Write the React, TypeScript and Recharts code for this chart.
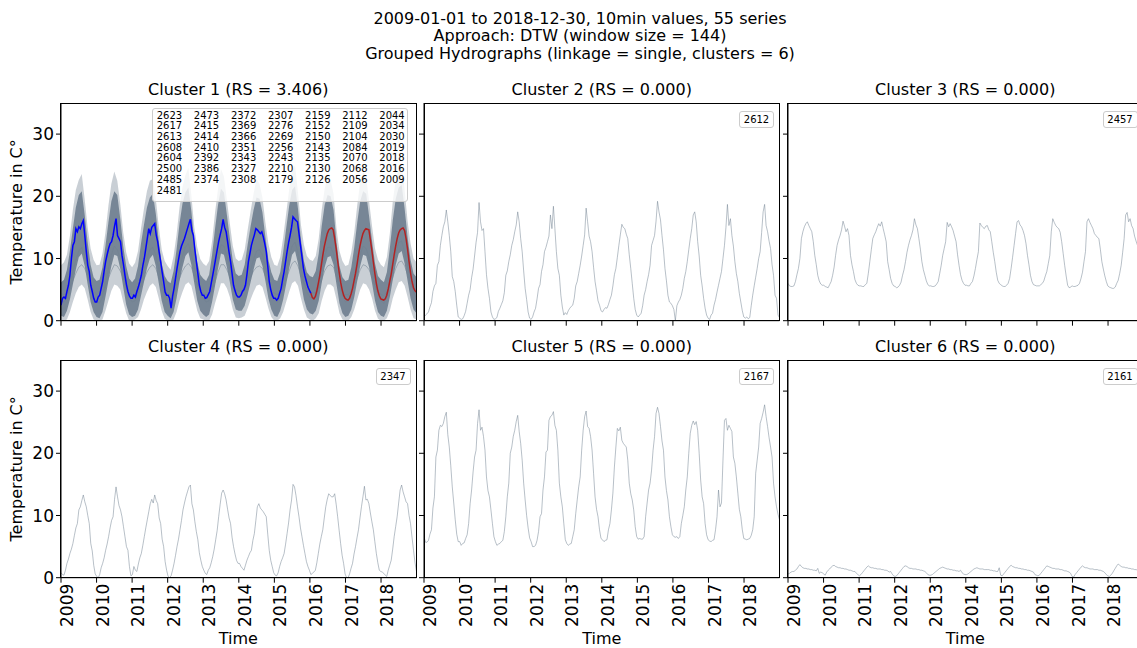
import React from "react";
import { ComposedChart, Line, Area, XAxis, YAxis } from "recharts";

const X_START = 2009;
const X_END = 2018.997;
const YEAR_TICKS = [2009, 2010, 2011, 2012, 2013, 2014, 2015, 2016, 2017, 2018];
const TEMP_TICKS = [0, 10, 20, 30];

const SUPTITLE = [
  "2009-01-01 to 2018-12-30, 10min values, 55 series",
  "Approach: DTW (window size = 144)",
  "Grouped Hydrographs (linkage = single, clusters = 6)",
];
const TITLES = [
  "Cluster 1 (RS = 3.406)",
  "Cluster 2 (RS = 0.000)",
  "Cluster 3 (RS = 0.000)",
  "Cluster 4 (RS = 0.000)",
  "Cluster 5 (RS = 0.000)",
  "Cluster 6 (RS = 0.000)",
];
const SINGLE_IDS = ["2612", "2457", "2347", "2167", "2161"];

// legend of cluster 1, column by column
const CLUSTER1_ID_COLUMNS = [
  ["2623", "2617", "2613", "2608", "2604", "2500", "2485", "2481"],
  ["2473", "2415", "2414", "2410", "2392", "2386", "2374"],
  ["2372", "2369", "2366", "2351", "2343", "2327", "2308"],
  ["2307", "2276", "2269", "2256", "2243", "2210", "2179"],
  ["2159", "2152", "2150", "2143", "2135", "2130", "2126"],
  ["2112", "2109", "2104", "2084", "2070", "2068", "2056"],
  ["2044", "2034", "2030", "2019", "2018", "2016", "2009"],
];

// semi-monthly values (24 per year, 2009..2018)
const S2612 = [
  0.6, 0.9, 1.1, 1.4, 2.2, 2.9, 4.7, 5.6, 6.0, 8.9, 9.5, 12.1, 13.7, 15.1, 15.9, 17.8, 15.9, 13.7, 11.1, 7.1, 6.3, 4.7, 2.5, 0.6,
  0.4, 0.2, 0.3, 0.8, 1.5, 2.8, 4.1, 5.0, 6.9, 8.3, 10.4, 12.6, 14.2, 19.0, 15.9, 14.5, 14.8, 11.1, 7.4, 5.2, 3.6, 1.4, 0.6, 0.2,
  0.3, 0.5, 1.5, 2.0, 2.6, 3.2, 4.5, 7.3, 8.0, 9.5, 10.6, 12.1, 13.0, 14.3, 15.4, 17.5, 15.9, 13.2, 11.1, 8.0, 5.2, 3.4, 1.4, 0.4,
  0.2, 0.6, 1.4, 2.0, 3.5, 5.2, 5.8, 7.9, 9.0, 11.1, 11.8, 12.7, 13.6, 17.0, 14.8, 18.4, 14.8, 11.1, 8.4, 7.3, 4.1, 2.2, 0.9, 1.3,
  1.0, 1.6, 2.0, 2.3, 2.5, 3.6, 5.6, 6.3, 7.6, 8.9, 10.4, 12.1, 13.8, 18.1, 15.9, 13.6, 12.7, 11.1, 8.6, 6.3, 4.8, 3.2, 2.5, 1.6,
  1.4, 1.8, 2.1, 2.0, 2.6, 3.4, 4.1, 5.6, 7.4, 8.4, 10.2, 12.1, 13.8, 15.5, 15.0, 14.8, 13.9, 13.2, 10.6, 8.4, 6.0, 3.6, 1.8, 0.9,
  0.6, 0.9, 1.2, 2.4, 4.1, 5.0, 6.3, 7.4, 8.9, 12.1, 12.9, 13.7, 16.0, 19.2, 17.5, 16.2, 13.7, 11.4, 8.4, 6.4, 4.1, 3.0, 2.8, 2.4,
  1.8, 0.0, 2.4, 3.0, 3.4, 4.1, 5.2, 6.8, 7.9, 9.5, 11.4, 13.2, 14.8, 17.0, 17.5, 15.9, 12.7, 10.4, 7.3, 5.6, 3.6, 2.0, 0.9, 0.4,
  0.2, 0.9, 1.2, 2.5, 3.4, 4.6, 5.7, 6.8, 7.9, 10.0, 12.1, 15.0, 18.7, 15.3, 16.4, 13.7, 12.0, 9.5, 7.6, 6.3, 4.4, 3.0, 1.6, 0.6,
  0.4, 0.6, 0.3, 0.5, 2.4, 4.1, 5.6, 7.0, 8.4, 10.0, 11.1, 14.2, 17.5, 18.7, 15.3, 14.3, 12.8, 11.6, 9.0, 7.3, 4.1, 3.6, 0.9, 0.5,
];

const S2457 = [
  6.0, 5.6, 5.5, 5.5, 5.6, 6.3, 7.4, 8.4, 10.0, 13.2, 14.3, 15.1, 15.6, 15.9, 15.3, 14.8, 14.3, 12.7, 10.5, 9.0, 7.3, 6.4, 5.9, 5.7,
  5.7, 5.5, 5.4, 5.3, 5.8, 6.3, 7.3, 8.6, 10.5, 12.1, 13.0, 13.7, 14.6, 16.0, 15.2, 14.3, 14.8, 13.7, 10.5, 9.0, 7.9, 6.6, 6.0, 5.7,
  5.6, 5.6, 5.5, 5.5, 5.8, 6.0, 7.6, 9.5, 11.4, 13.2, 13.8, 14.3, 15.0, 15.6, 15.2, 15.9, 14.8, 13.8, 12.7, 9.5, 8.2, 6.8, 6.0, 5.6,
  5.5, 5.3, 5.4, 5.7, 6.2, 7.3, 8.2, 9.5, 11.0, 12.1, 13.0, 13.7, 14.6, 16.4, 15.4, 14.8, 13.2, 11.5, 9.5, 8.2, 7.3, 6.4, 5.8, 5.6,
  5.6, 5.5, 5.5, 5.6, 5.9, 6.3, 7.6, 8.9, 10.5, 11.6, 12.7, 15.8, 15.1, 15.6, 15.1, 14.5, 13.6, 12.7, 10.6, 8.9, 7.4, 6.5, 6.0, 5.7,
  5.7, 5.6, 5.6, 6.0, 6.3, 7.2, 8.4, 9.8, 11.1, 15.7, 15.3, 15.0, 14.8, 15.2, 15.3, 14.6, 14.3, 12.7, 11.0, 9.5, 7.8, 6.5, 6.0, 5.8,
  5.6, 5.5, 5.5, 5.7, 6.0, 6.8, 8.4, 10.2, 12.1, 14.0, 15.9, 16.1, 15.4, 15.1, 14.5, 13.7, 12.4, 10.5, 9.0, 7.3, 6.3, 5.8, 5.7, 5.6,
  5.6, 5.6, 5.8, 6.0, 6.4, 7.2, 7.9, 9.2, 10.5, 14.3, 16.4, 15.8, 15.3, 15.0, 14.8, 14.2, 12.7, 10.8, 8.9, 7.2, 5.7, 5.3, 5.4, 5.6,
  5.5, 5.5, 5.6, 5.7, 6.0, 6.8, 7.8, 9.5, 11.1, 15.9, 16.4, 15.8, 15.3, 14.8, 14.0, 13.7, 13.4, 13.2, 11.5, 9.5, 8.3, 7.2, 6.3, 5.6,
  5.4, 5.3, 5.2, 5.2, 5.4, 6.0, 6.5, 7.6, 8.9, 11.0, 13.2, 17.0, 17.4, 15.9, 16.4, 15.3, 14.8, 13.6, 12.8, 12.1, 10.5, 8.5, 7.0, 6.0,
];

const S2347 = [
  0.8, 0.5, 0.4, 1.2, 2.3, 3.0, 3.9, 4.6, 5.5, 6.8, 8.0, 8.7, 10.9, 11.4, 12.4, 13.3, 12.2, 11.4, 10.0, 8.7, 5.5, 4.3, 2.0, 0.6,
  0.2, 0.0, 0.5, 1.6, 2.3, 3.2, 4.4, 5.4, 6.6, 8.0, 9.2, 9.8, 12.6, 14.6, 13.0, 11.6, 10.9, 9.8, 8.2, 6.6, 5.0, 4.4, 1.8, 0.3,
  0.5, 1.8, 1.2, 1.0, 2.2, 3.2, 3.9, 5.2, 6.6, 8.0, 9.3, 10.6, 11.9, 12.6, 12.0, 13.3, 12.4, 11.9, 9.6, 8.7, 6.2, 5.0, 2.6, 1.2,
  0.2, 0.0, 0.3, 1.2, 2.3, 3.6, 5.0, 6.2, 7.7, 9.2, 10.9, 12.0, 13.0, 13.8, 14.6, 14.9, 11.9, 10.9, 9.0, 7.4, 6.1, 4.0, 2.8, 1.8,
  1.2, 0.7, 0.5, 1.2, 1.6, 2.4, 3.4, 4.6, 6.1, 7.6, 9.8, 11.8, 13.6, 14.1, 13.5, 12.5, 11.0, 9.6, 8.7, 6.5, 5.0, 3.8, 2.8, 2.3,
  2.3, 1.8, 1.5, 1.2, 2.0, 2.8, 3.4, 4.0, 4.4, 6.0, 7.1, 9.2, 11.4, 11.9, 11.2, 10.9, 10.6, 10.2, 9.8, 7.0, 4.4, 2.8, 1.8, 0.8,
  0.4, 0.3, 0.8, 1.8, 2.6, 3.2, 3.9, 5.4, 7.1, 8.8, 10.9, 12.5, 15.0, 14.6, 13.2, 11.4, 9.8, 8.0, 6.6, 5.2, 3.9, 2.6, 1.8, 1.2,
  0.5, 0.7, 0.9, 1.2, 2.4, 3.9, 5.4, 6.6, 7.7, 9.6, 11.4, 12.6, 13.5, 13.2, 13.0, 13.0, 13.5, 11.8, 9.8, 7.6, 5.5, 3.6, 2.3, 0.6,
  0.0, 0.0, 0.6, 1.5, 2.3, 3.8, 5.0, 6.4, 7.7, 9.6, 11.4, 13.0, 14.7, 12.5, 12.6, 11.9, 10.4, 9.0, 7.7, 5.8, 3.9, 2.4, 1.2, 1.0,
  0.9, 0.7, 0.4, 0.2, 1.2, 2.0, 2.8, 4.6, 6.6, 8.2, 9.8, 12.0, 14.1, 14.9, 13.8, 13.0, 12.2, 11.9, 10.0, 8.7, 6.5, 4.4, 2.4, 1.0,
];

const S2167 = [
  6.6, 5.7, 5.7, 6.0, 7.0, 7.7, 11.2, 13.0, 19.4, 20.5, 23.7, 24.5, 24.3, 24.8, 25.9, 26.6, 23.0, 21.0, 18.0, 14.6, 12.0, 9.3, 7.0, 5.8,
  5.8, 5.2, 5.5, 5.6, 6.3, 6.9, 8.7, 11.9, 14.1, 17.0, 19.4, 20.5, 24.8, 27.0, 23.7, 24.2, 22.7, 20.5, 16.2, 14.0, 13.0, 10.9, 8.7, 6.6,
  5.8, 5.2, 5.4, 5.5, 5.8, 6.0, 7.4, 9.8, 13.0, 15.2, 20.0, 21.0, 22.7, 23.7, 25.1, 26.1, 23.5, 21.6, 18.9, 15.2, 12.5, 10.0, 8.0, 6.4,
  5.8, 5.0, 5.0, 5.2, 6.0, 7.4, 9.8, 10.3, 14.1, 16.2, 20.2, 20.5, 25.3, 25.9, 26.1, 26.7, 24.5, 23.7, 20.5, 15.2, 13.0, 11.4, 8.7, 6.1,
  5.5, 5.2, 5.4, 5.5, 6.6, 7.7, 10.3, 12.5, 14.6, 16.2, 20.5, 23.7, 25.9, 26.8, 24.3, 24.0, 22.7, 20.5, 16.8, 13.0, 11.0, 9.8, 7.7, 6.3,
  6.1, 5.8, 6.0, 6.1, 7.7, 8.7, 10.9, 13.6, 17.8, 21.0, 24.0, 23.6, 24.2, 22.1, 21.6, 21.3, 21.0, 18.9, 15.2, 13.5, 12.5, 10.9, 8.2, 6.6,
  6.2, 6.3, 6.2, 6.2, 6.6, 9.8, 12.0, 14.1, 15.2, 17.3, 20.5, 22.7, 26.4, 27.4, 26.4, 24.3, 22.0, 20.5, 16.2, 14.0, 12.5, 9.8, 8.2, 6.9,
  6.6, 6.5, 6.6, 6.3, 6.6, 8.7, 10.0, 11.4, 14.1, 16.2, 20.0, 23.2, 24.5, 25.2, 24.6, 25.1, 23.7, 20.0, 15.7, 13.0, 11.9, 8.7, 6.9, 6.1,
  5.9, 5.8, 6.0, 6.1, 7.7, 9.8, 14.1, 11.4, 12.0, 18.9, 25.3, 25.6, 23.7, 24.5, 24.0, 23.5, 19.4, 18.4, 16.2, 13.6, 11.0, 9.8, 7.7, 6.3,
  6.2, 6.1, 6.2, 6.3, 6.8, 7.7, 9.8, 16.8, 18.9, 21.0, 24.8, 25.6, 26.6, 27.8, 25.9, 24.3, 22.5, 21.0, 19.4, 15.2, 13.0, 11.4, 10.2, 9.3,
];

const S2161 = [
  0.6, 0.7, 0.9, 1.0, 1.0, 1.2, 1.4, 1.8, 2.1, 1.8, 1.6, 1.5, 1.5, 1.4, 1.4, 1.3, 1.3, 1.2, 1.2, 1.1, 1.5, 0.7, 0.9, 0.8,
  0.6, 0.4, 0.9, 1.2, 1.4, 1.7, 1.9, 2.0, 1.8, 1.7, 1.6, 1.6, 1.5, 1.5, 1.4, 1.4, 1.3, 1.2, 1.2, 1.1, 1.0, 1.0, 0.7, 0.5,
  0.3, 0.5, 0.8, 1.1, 1.4, 1.7, 1.9, 1.7, 1.6, 1.6, 1.5, 1.5, 1.4, 1.4, 1.4, 1.3, 1.3, 1.2, 1.2, 1.1, 0.9, 1.0, 0.6, 0.3,
  0.2, 0.3, 0.6, 0.9, 1.2, 1.5, 1.8, 1.9, 1.8, 1.6, 1.5, 1.5, 1.4, 1.4, 1.4, 1.3, 1.3, 1.2, 1.2, 1.1, 1.0, 0.8, 0.5, 0.4,
  0.4, 0.5, 0.7, 0.9, 1.1, 1.3, 1.5, 1.6, 1.7, 1.6, 1.5, 1.4, 1.4, 1.3, 1.3, 1.2, 1.2, 1.1, 1.1, 1.0, 1.2, 0.8, 0.6, 0.5,
  0.5, 0.6, 0.8, 1.0, 1.2, 1.4, 1.5, 1.6, 1.5, 1.4, 1.4, 1.4, 1.3, 1.3, 1.3, 1.3, 1.2, 1.2, 1.1, 1.1, 1.0, 1.0, 1.6, 0.4,
  0.3, 0.6, 0.9, 1.2, 1.5, 1.8, 2.0, 1.8, 1.7, 1.6, 1.6, 1.5, 1.5, 1.4, 1.4, 1.3, 1.3, 1.2, 1.2, 1.1, 1.0, 0.9, 0.5, 0.4,
  0.3, 0.4, 0.7, 1.0, 1.3, 1.6, 1.9, 1.8, 1.7, 1.6, 1.5, 1.5, 1.4, 1.4, 1.4, 1.3, 1.3, 1.2, 1.1, 1.1, 1.0, 0.9, 0.7, 0.2,
  0.1, 0.5, 0.8, 1.1, 1.4, 1.7, 1.9, 1.7, 1.6, 1.6, 1.5, 1.4, 1.4, 1.4, 1.3, 1.3, 1.3, 1.2, 1.2, 1.1, 1.0, 0.8, 0.5, 0.3,
  0.2, 0.4, 0.7, 1.1, 1.5, 1.9, 2.2, 2.0, 1.8, 1.7, 1.7, 1.6, 1.6, 1.5, 1.5, 1.4, 1.4, 1.3, 1.3, 1.2, 1.2, 1.1, 1.1, 1.0,
];

// cluster 1: highlighted series, blue 2009-2016, red 2016-2018
const C1_BLUE = [
  2.5, 3.6, 3.8, 3.6, 4.7, 5.7, 7.3, 10.0, 12.1, 12.7, 14.8, 14.3, 15.1, 14.8, 15.6, 16.1, 13.7, 11.1, 8.9, 7.9, 5.7, 4.7, 3.6, 3.0,
  3.0, 3.8, 4.1, 5.2, 6.3, 8.0, 9.5, 10.6, 11.6, 12.4, 12.7, 13.7, 15.2, 16.4, 13.7, 13.2, 12.7, 10.5, 9.0, 7.3, 5.8, 4.7, 4.0, 3.6,
  3.6, 4.1, 3.8, 4.7, 5.4, 6.3, 7.3, 8.8, 10.0, 11.6, 13.2, 14.8, 14.0, 15.0, 15.3, 15.6, 13.8, 12.7, 11.0, 9.5, 7.8, 6.3, 4.6, 4.1,
  4.1, 3.6, 2.0, 3.9, 5.2, 6.8, 8.4, 9.8, 11.1, 12.0, 12.6, 13.2, 14.0, 14.8, 15.6, 16.3, 14.5, 13.7, 11.4, 9.5, 7.6, 5.7, 4.7, 4.1,
  4.1, 3.6, 3.7, 4.2, 4.7, 6.0, 7.3, 8.6, 10.0, 11.4, 12.7, 13.8, 14.8, 16.3, 15.0, 14.3, 12.7, 11.0, 9.5, 7.6, 5.7, 4.8, 4.1, 3.8,
  3.8, 4.1, 4.7, 5.0, 5.7, 7.4, 9.5, 10.8, 12.1, 13.0, 13.8, 14.8, 14.6, 14.3, 14.0, 14.3, 13.5, 12.4, 11.1, 8.8, 6.3, 5.0, 4.1, 3.6,
  3.6, 3.3, 3.6, 4.4, 5.2, 6.6, 7.9, 9.5, 11.1, 12.5, 13.7, 15.0, 16.7, 16.4, 16.1, 15.9, 14.0, 12.1, 10.3, 8.4, 7.2, 6.3, 5.4, 4.9,
  4.4,
];
const C1_RED = [
  4.4, 3.7, 3.5, 3.9, 4.8, 6.0, 7.3, 8.9, 10.5, 11.9, 13.0, 14.0, 14.6, 14.8, 14.9, 14.6, 13.2, 11.6, 9.6, 7.8, 6.2, 5.0, 4.1, 3.6,
  3.4, 3.3, 3.6, 4.3, 5.2, 6.4, 7.6, 9.0, 10.6, 12.0, 13.1, 14.0, 14.5, 14.8, 14.7, 14.6, 13.0, 11.3, 9.4, 7.6, 6.0, 4.8, 4.0, 3.5,
  3.4, 3.3, 3.5, 4.1, 5.1, 6.3, 7.5, 9.0, 10.6, 12.0, 13.2, 14.1, 14.6, 14.8, 14.9, 14.5, 13.2, 11.5, 9.5, 7.7, 6.3, 5.3, 4.8, 4.6,
];
const C1_RED_START = 168;

// cluster 1: monthly spread of the 50 grey series (12 per year + end)
const C1_OUTER_HIGH = [
  8.9, 9.4, 10.6, 13.6, 17.8, 21.0, 22.6, 23.6, 19.5, 15.0, 11.6, 9.8,
  8.9, 9.0, 10.8, 14.2, 18.5, 22.0, 24.0, 22.5, 18.8, 14.2, 11.0, 9.2,
  8.6, 9.3, 11.2, 14.8, 18.0, 20.8, 22.5, 22.8, 19.6, 15.2, 11.4, 9.6,
  8.8, 8.2, 10.4, 13.8, 18.2, 21.5, 23.4, 24.6, 20.2, 15.0, 11.8, 9.9,
  9.2, 8.8, 9.6, 12.8, 17.4, 21.2, 24.4, 23.2, 19.4, 15.6, 12.0, 10.0,
  9.6, 9.8, 11.4, 14.6, 17.6, 20.4, 22.8, 22.0, 19.8, 15.8, 12.4, 10.2,
  9.0, 8.8, 10.2, 13.4, 17.2, 21.0, 24.2, 25.0, 20.6, 15.4, 12.2, 10.4,
  9.8, 9.6, 10.4, 13.2, 17.8, 21.2, 23.1, 22.6, 20.4, 14.8, 11.2, 9.6,
  8.8, 9.0, 11.0, 14.2, 18.6, 22.2, 23.9, 23.2, 19.2, 15.2, 11.6, 9.8,
  9.0, 8.6, 10.2, 14.0, 19.2, 22.8, 24.6, 25.4, 21.0, 16.0, 12.4, 10.0,
  9.4,
];
const C1_CORE_HIGH = [
  6.2, 6.6, 8.2, 11.2, 14.8, 18.2, 20.2, 20.8, 17.0, 12.6, 9.0, 7.0,
  6.4, 6.6, 8.6, 12.0, 15.8, 19.2, 20.8, 20.2, 16.4, 12.0, 8.8, 6.8,
  6.2, 6.8, 8.8, 12.4, 15.4, 18.2, 19.8, 20.4, 17.2, 12.8, 9.2, 7.2,
  6.4, 6.0, 8.0, 11.4, 15.6, 18.8, 20.6, 21.4, 17.6, 12.8, 9.4, 7.4,
  6.8, 6.4, 7.4, 10.6, 14.8, 18.6, 21.2, 20.6, 17.0, 13.2, 9.6, 7.6,
  7.2, 7.4, 9.0, 12.2, 15.2, 17.8, 19.8, 19.6, 17.4, 13.4, 9.8, 7.8,
  6.6, 6.4, 7.8, 11.0, 14.8, 18.4, 21.0, 21.6, 18.0, 13.0, 9.6, 7.8,
  7.2, 7.0, 8.0, 10.8, 15.2, 18.6, 20.2, 20.0, 17.8, 12.6, 8.8, 7.0,
  6.4, 6.6, 8.6, 11.8, 15.8, 19.2, 20.8, 20.4, 16.8, 12.8, 9.2, 7.2,
  6.6, 6.2, 7.8, 11.6, 16.2, 19.6, 21.4, 21.8, 18.0, 13.4, 9.8, 7.6,
  7.0,
];
const C1_CORE_LOW = [
  0.8, 0.6, 1.6, 3.4, 5.8, 8.2, 10.2, 10.8, 8.8, 5.8, 3.0, 1.4,
  0.6, 0.4, 1.4, 3.8, 6.4, 8.8, 10.6, 10.4, 8.4, 5.4, 2.6, 1.0,
  0.6, 0.8, 1.8, 4.0, 6.2, 8.4, 10.0, 10.6, 8.8, 6.0, 3.2, 1.4,
  0.8, 0.4, 1.4, 3.6, 6.4, 8.6, 10.4, 11.0, 9.0, 6.0, 3.2, 1.6,
  1.0, 0.6, 1.0, 3.0, 5.6, 8.4, 10.8, 10.6, 8.6, 6.2, 3.4, 1.8,
  1.6, 1.6, 2.4, 4.2, 6.2, 8.2, 10.0, 10.2, 8.8, 6.4, 3.6, 1.8,
  0.8, 0.6, 1.6, 3.4, 5.8, 8.4, 10.6, 11.2, 9.2, 6.2, 3.4, 1.8,
  1.2, 1.0, 1.6, 3.2, 6.0, 8.6, 10.2, 10.4, 9.0, 5.8, 2.8, 1.2,
  0.6, 0.8, 1.8, 3.8, 6.4, 8.8, 10.6, 10.4, 8.6, 6.0, 3.2, 1.4,
  0.8, 0.6, 1.6, 3.8, 6.6, 9.0, 10.8, 11.2, 9.2, 6.4, 3.6, 1.8,
  1.2,
];
const C1_OUTER_LOW = [
  0.0, 0.0, 0.2, 1.4, 3.0, 4.4, 5.4, 5.8, 5.2, 3.4, 1.4, 0.2,
  0.0, 0.0, 0.2, 1.6, 3.2, 4.8, 5.8, 5.6, 5.0, 3.0, 1.2, 0.0,
  0.0, 0.2, 0.6, 1.8, 3.4, 4.6, 5.6, 6.0, 5.4, 3.6, 1.6, 0.3,
  0.0, 0.0, 0.2, 1.4, 3.2, 4.6, 5.8, 6.2, 5.6, 3.6, 1.6, 0.4,
  0.2, 0.0, 0.0, 1.0, 2.8, 4.4, 6.0, 6.0, 5.2, 3.8, 1.8, 0.5,
  0.4, 0.5, 0.8, 2.0, 3.4, 4.6, 5.6, 5.8, 5.4, 3.8, 2.0, 0.6,
  0.0, 0.0, 0.4, 1.4, 3.0, 4.6, 6.0, 6.4, 5.6, 3.6, 1.8, 0.5,
  0.2, 0.0, 0.4, 1.2, 3.2, 4.8, 5.8, 5.8, 5.4, 3.4, 1.2, 0.2,
  0.0, 0.0, 0.6, 1.8, 3.4, 5.0, 6.0, 5.8, 5.0, 3.6, 1.6, 0.3,
  0.0, 0.0, 0.4, 1.6, 3.6, 5.0, 6.2, 6.4, 5.6, 3.8, 1.8, 0.4,
  0.2,
];
// two of the flatter grey series, monthly
const C1_LINE_A = [
  4.4, 4.2, 4.4, 5.2, 6.4, 7.6, 8.6, 9.0, 8.4, 7.2, 5.8, 4.8,
  4.2, 4.0, 4.4, 5.4, 6.8, 8.0, 9.0, 8.8, 8.0, 6.8, 5.4, 4.6,
  4.2, 4.2, 4.8, 5.6, 6.6, 7.8, 8.6, 9.0, 8.4, 7.0, 5.8, 4.8,
  4.4, 4.0, 4.4, 5.4, 6.8, 8.0, 8.8, 9.2, 8.6, 7.2, 5.8, 4.8,
  4.4, 4.2, 4.2, 5.0, 6.2, 7.8, 9.0, 9.0, 8.2, 7.0, 5.8, 5.0,
  4.8, 4.8, 5.2, 6.0, 7.0, 8.0, 8.6, 8.8, 8.4, 7.2, 6.0, 5.0,
  4.4, 4.2, 4.6, 5.4, 6.6, 8.0, 9.2, 9.6, 8.8, 7.2, 6.0, 5.0,
  4.6, 4.4, 4.6, 5.2, 6.6, 8.0, 8.8, 9.0, 8.6, 7.0, 5.6, 4.6,
  4.2, 4.2, 4.8, 5.6, 6.8, 8.2, 9.0, 8.8, 8.2, 7.0, 5.6, 4.8,
  4.2, 4.0, 4.6, 5.6, 7.0, 8.4, 9.4, 9.6, 8.8, 7.4, 6.0, 5.0,
  4.6,
];
const C1_LINE_B = [
  3.2, 3.0, 3.8, 5.6, 7.8, 9.8, 11.2, 11.8, 10.4, 8.2, 5.8, 4.0,
  3.2, 2.8, 3.8, 6.0, 8.4, 10.6, 12.0, 11.4, 10.0, 7.6, 5.4, 3.8,
  3.0, 3.2, 4.4, 6.4, 8.2, 10.0, 11.4, 11.8, 10.6, 8.4, 6.0, 4.2,
  3.4, 2.8, 3.6, 5.8, 8.4, 10.4, 11.8, 12.4, 10.8, 8.4, 6.0, 4.4,
  3.6, 3.0, 3.2, 5.0, 7.6, 10.2, 12.2, 12.0, 10.4, 8.6, 6.2, 4.6,
  4.0, 4.2, 5.0, 6.6, 8.2, 9.8, 11.2, 11.4, 10.6, 8.6, 6.4, 4.6,
  3.4, 3.0, 4.0, 5.8, 7.8, 10.2, 12.0, 12.6, 11.0, 8.4, 6.2, 4.6,
  3.8, 3.4, 3.8, 5.4, 8.0, 10.4, 11.8, 11.8, 10.8, 8.0, 5.6, 4.0,
  3.0, 3.2, 4.4, 6.2, 8.6, 10.6, 12.0, 11.6, 10.2, 8.2, 5.8, 4.2,
  3.2, 2.8, 4.0, 6.2, 8.8, 11.0, 12.6, 12.8, 11.0, 8.8, 6.4, 4.6,
  3.6,
];

const FONT = "DejaVu Sans";
const GREY = "#708090";

const COL_LEFT = [60.5, 424, 787.5];
const ROW_TOP = [103, 360];
const PLOT_W = 355.5;
const PLOT_H = 217.7;
const YAXIS_W = 62;
const XAXIS_H = 60;
const PAD = 2;

const STEP = (X_END - X_START) / 239;
const BAND_STEP = (X_END - X_START) / 120;

const toSeries = (values: number[], offset = 0) =>
  values.map((v, i) => ({ x: X_START + (i + offset) * STEP, v }));

const bandData = C1_OUTER_HIGH.map((hi, k) => ({
  x: X_START + k * BAND_STEP,
  outer: [C1_OUTER_LOW[k], hi],
  core: [C1_CORE_LOW[k], C1_CORE_HIGH[k]],
  a: C1_LINE_A[k],
  b: C1_LINE_B[k],
}));
const blueData = toSeries(C1_BLUE);
const redData = toSeries(C1_RED, C1_RED_START);

type PanelProps = {
  col: number;
  row: number;
  data: any[];
  children: React.ReactNode;
};

const Panel = ({ col, row, data, children }: PanelProps) => {
  const showY = col === 0;
  const showX = row === 1;
  return (
    <div
      style={{
        position: "absolute",
        left: COL_LEFT[col] - YAXIS_W,
        top: ROW_TOP[row] - PAD,
      }}
    >
      <ComposedChart
        width={YAXIS_W + PLOT_W + PAD}
        height={PAD + PLOT_H + XAXIS_H}
        data={data}
        margin={{ top: PAD, right: PAD, left: 0, bottom: 0 }}
      >
        <XAxis
          dataKey="x"
          type="number"
          domain={[X_START, X_END]}
          ticks={YEAR_TICKS}
          allowDataOverflow
          height={XAXIS_H}
          stroke="#000"
          tickSize={5}
          tickMargin={1}
          tick={{
            fontSize: 17,
            fill: "#000",
            fontFamily: FONT,
            angle: -90,
            textAnchor: "end",
            verticalAnchor: "middle",
          }}
          tickFormatter={showX ? (v: number) => String(v) : () => ""}
          interval={0}
        />
        <YAxis
          type="number"
          domain={[0, 35]}
          ticks={TEMP_TICKS}
          allowDataOverflow
          width={YAXIS_W}
          stroke="#000"
          tickSize={5}
          tickMargin={2}
          tick={{ fontSize: 17, fill: "#000", fontFamily: FONT }}
          tickFormatter={showY ? (v: number) => String(v) : () => ""}
          interval={0}
        />
        {children}
      </ComposedChart>
      {/* axes frame (all four spines) */}
      <div
        style={{
          position: "absolute",
          left: YAXIS_W - 0.5,
          top: PAD - 0.5,
          width: PLOT_W + 1,
          height: PLOT_H + 1,
          boxSizing: "border-box",
          border: "1px solid #000",
          pointerEvents: "none",
        }}
      />
    </div>
  );
};

const SINGLE_SERIES = [S2612, S2457, S2347, S2167, S2161];
const SINGLE_POS = [
  { col: 1, row: 0 },
  { col: 2, row: 0 },
  { col: 0, row: 1 },
  { col: 1, row: 1 },
  { col: 2, row: 1 },
];
const ALL_POS = [{ col: 0, row: 0 }, ...SINGLE_POS];

export default function App() {
  return (
    <div
      style={{
        position: "fixed",
        left: 0,
        top: 0,
        width: 1137,
        height: 648,
        overflow: "hidden",
        background: "#fff",
        fontFamily: FONT,
      }}
    >
      <Panel col={0} row={0} data={bandData}>
        <Area
          dataKey="outer"
          type="linear"
          stroke="none"
          fill={GREY}
          fillOpacity={0.38}
          isAnimationActive={false}
        />
        <Area
          dataKey="core"
          type="linear"
          stroke="none"
          fill={GREY}
          fillOpacity={0.92}
          isAnimationActive={false}
        />
        <Line dataKey="a" type="linear" stroke={GREY} strokeOpacity={0.5} strokeWidth={1} dot={false} isAnimationActive={false} />
        <Line dataKey="b" type="linear" stroke={GREY} strokeOpacity={0.5} strokeWidth={1} dot={false} isAnimationActive={false} />
        <Line
          data={blueData}
          dataKey="v"
          type="linear"
          stroke="#0000ff"
          strokeWidth={1.5}
          dot={false}
          isAnimationActive={false}
        />
        <Line
          data={redData}
          dataKey="v"
          type="linear"
          stroke="#b22222"
          strokeWidth={1.5}
          dot={false}
          isAnimationActive={false}
        />
      </Panel>

      {SINGLE_SERIES.map((values, i) => (
        <Panel key={SINGLE_IDS[i]} col={SINGLE_POS[i].col} row={SINGLE_POS[i].row} data={toSeries(values)}>
          <Line
            dataKey="v"
            type="linear"
            stroke={GREY}
            strokeOpacity={0.5}
            strokeWidth={1}
            dot={false}
            isAnimationActive={false}
          />
        </Panel>
      ))}

      {/* legend of cluster 1 */}
      <div
        style={{
          position: "absolute",
          left: 151.7,
          top: 108,
          width: 256.3,
          height: 94,
          boxSizing: "border-box",
          background: "rgba(255,255,255,0.8)",
          border: "1px solid #cccccc",
          borderRadius: 3,
          fontSize: 10,
          color: "#000",
        }}
      >
        {CLUSTER1_ID_COLUMNS.map((ids, c) => (
          <div key={c} style={{ position: "absolute", left: 4 + c * 37.1, top: 1.6, lineHeight: "10.7px" }}>
            {ids.map((id) => (
              <div key={id}>{id}</div>
            ))}
          </div>
        ))}
      </div>

      {/* single series legends */}
      {SINGLE_POS.map((p, i) => (
        <div
          key={SINGLE_IDS[i]}
          style={{
            position: "absolute",
            left: COL_LEFT[p.col] + PLOT_W - 5.5 - 35,
            top: ROW_TOP[p.row] + 7.5,
            width: 35,
            height: 17,
            boxSizing: "border-box",
            background: "rgba(255,255,255,0.8)",
            border: "1px solid #cccccc",
            borderRadius: 3,
            fontSize: 10,
            color: "#000",
            display: "flex",
            alignItems: "center",
            justifyContent: "center",
          }}
        >
          {SINGLE_IDS[i]}
        </div>
      ))}

      <svg
        width={1137}
        height={648}
        style={{ position: "absolute", left: 0, top: 0, pointerEvents: "none" }}
        fontFamily={FONT}
      >
        {SUPTITLE.map((t, i) => (
          <text key={t} x={580} y={18 + i * 17.5} textAnchor="middle" dominantBaseline="central" fontSize={16} fill="#000">
            {t}
          </text>
        ))}
        {ALL_POS.map((p, i) => (
          <text
            key={TITLES[i]}
            x={COL_LEFT[p.col] + PLOT_W / 2}
            y={ROW_TOP[p.row] - 14}
            textAnchor="middle"
            dominantBaseline="central"
            fontSize={16}
            fill="#000"
          >
            {TITLES[i]}
          </text>
        ))}
        {ROW_TOP.map((top) => (
          <text
            key={top}
            x={17}
            y={top + PLOT_H / 2}
            transform={`rotate(-90, 17, ${top + PLOT_H / 2})`}
            textAnchor="middle"
            dominantBaseline="central"
            fontSize={16}
            fill="#000"
          >
            Temperature in C°
          </text>
        ))}
        {COL_LEFT.map((left) => (
          <text key={left} x={left + PLOT_W / 2} y={638} textAnchor="middle" dominantBaseline="central" fontSize={16} fill="#000">
            Time
          </text>
        ))}
      </svg>
    </div>
  );
}
